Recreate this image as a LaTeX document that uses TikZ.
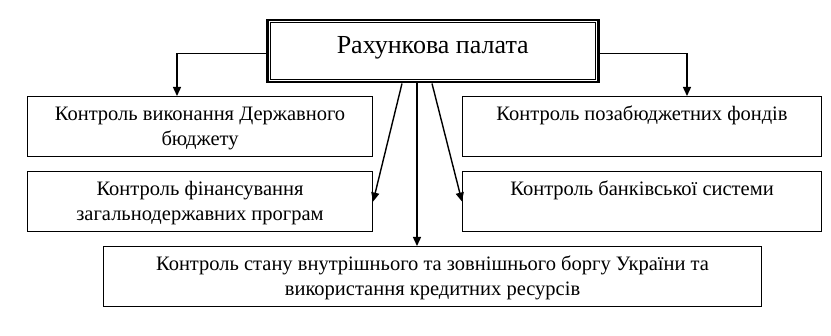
\documentclass[tikz,border=0pt]{standalone}
\usepackage{fontspec}
\setmainfont{Liberation Serif}
\usetikzlibrary{arrows.meta,calc}
\newcommand\bxtext[3]{\parbox[t][#2][t]{#1}{\centering\fontsize{20.5}{24.5}\selectfont\rule{0pt}{24pt}#3}}
\tikzset{
  box/.style={draw, line width=1.1pt, inner sep=0pt, anchor=north west},
  arr/.style={line width=1.4pt, -{Triangle[length=9pt,width=8pt]}}
}
\begin{document}
\begin{tikzpicture}[x=1pt,y=-1pt]
\useasboundingbox (0,0) rectangle (831,336);
% top box
\node[draw, line width=2.5pt, inner sep=0pt, anchor=north west] (top) at (266,19)
  {\parbox[t][62pt][t]{331pt}{\centering\fontsize{26}{30}\selectfont\rule{0pt}{33pt}Рахункова палата}};
\draw[line width=1pt] ([shift={(4,4)}]top.north west) rectangle ([shift={(-4,-4)}]top.south east);
% boxes
\node[box] (l1) at (27,96) {\bxtext{345pt}{60pt}{Контроль виконання Державного\\бюджету}};
\node[box] (l2) at (27,171) {\bxtext{345pt}{60pt}{Контроль фінансування\\загальнодержавних програм}};
\node[box] (r1) at (462,96) {\bxtext{359pt}{60pt}{Контроль позабюджетних фондів}};
\node[box] (r2) at (462,171) {\bxtext{359pt}{60pt}{Контроль банківської системи}};
\node[box] (b) at (103,246) {\bxtext{658pt}{60pt}{Контроль стану внутрішнього та зовнішнього боргу України та\\використання кредитних ресурсів}};
% connectors
\coordinate (tl) at ($(top.west)+(0,2)$);
\coordinate (tr) at ($(top.east)+(0,2)$);
\draw[arr] (tl) -| (l1.north -| 177,0);
\draw[arr] (tr) -| (r1.north -| 687,0);
\draw[arr] (top.south -| 402,0) -- (l2.east);
\draw[arr] (top.south -| 417,0) -- (b.north -| 417,0);
\draw[arr] (top.south -| 432,0) -- (r2.west);
\end{tikzpicture}
\end{document}
